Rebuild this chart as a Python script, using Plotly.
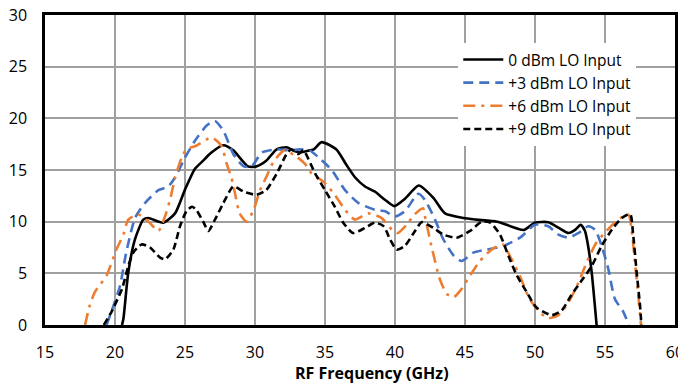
import plotly.graph_objects as go

# 0 dBm LO Input (solid black)
x0 = [20.5, 20.6, 20.95, 21.43, 22.02, 22.38, 23.45, 24.29, 25.0, 25.7, 26.3, 26.8, 27.74, 28.45,
      29.5, 30.1, 30.8, 31.55, 32.26, 32.7, 33.2, 33.9, 34.2, 34.76, 35.8, 36.55, 37.14, 37.86,
      38.57, 39.3, 39.95, 40.7, 41.7, 42.74, 43.57, 44.9, 45.8, 47.3, 49.2, 50.0, 50.95, 51.7,
      52.4, 52.86, 53.26, 53.57, 53.8, 54.05, 54.4]
y0 = [0.0, 0.6, 5.1, 8.3, 10.2, 10.35, 9.9, 10.8, 13.1, 15.1, 15.9, 16.6, 17.4, 16.9,
      15.35, 15.35, 15.9, 17.0, 17.2, 16.9, 16.7, 16.9, 17.0, 17.7, 17.0, 15.45, 14.3, 13.4,
      12.9, 12.1, 11.5, 12.2, 13.5, 12.3, 10.8, 10.35, 10.2, 10.0, 9.2, 9.9, 9.95, 9.4,
      8.9, 9.2, 9.7, 9.1, 7.6, 5.1, 0.0]

# +3 dBm LO Input (blue dashed)
x3 = [19.4, 19.9, 20.36, 20.8, 21.43, 22.14, 23.1, 23.8, 24.3, 25.0, 25.7, 26.55, 27.14, 27.74,
      28.45, 29.2, 29.76, 30.5, 31.55, 32.5, 33.2, 33.9, 34.64, 35.48, 36.43, 37.4, 38.57,
      39.3, 40.0, 40.7, 41.67, 42.14, 42.86, 43.45, 44.2, 44.76, 45.6, 46.55, 47.74, 48.93,
      50.0, 50.95, 51.67, 52.4, 53.1, 53.8, 54.3, 54.76, 55.24, 55.7, 56.3, 56.7]
y3 = [0.0, 1.9, 3.8, 7.0, 10.35, 11.8, 13.05, 13.4, 14.3, 16.2, 17.8, 19.3, 19.75, 18.8,
      16.55, 15.35, 15.35, 16.7, 17.0, 16.9, 17.0, 16.9, 16.1, 15.0, 13.05, 11.8, 11.15,
      11.0, 10.5, 11.0, 12.7, 12.1, 10.2, 8.3, 6.7, 6.2, 7.0, 7.3, 7.65, 8.45,
      9.7, 9.55, 8.75, 8.45, 8.9, 9.55, 9.2, 7.65, 5.4, 2.55, 1.3, 0.0]

# +6 dBm LO Input (orange dash-dot)
x6 = [17.86, 18.2, 18.57, 19.4, 20.1, 20.6, 20.95, 21.67, 22.4, 23.1, 23.57, 23.93, 24.3, 24.76,
      25.1, 25.8, 26.9, 27.6, 27.98, 28.33, 28.57, 28.9, 29.4, 29.9, 30.36, 30.8, 31.3, 32.1,
      33.0, 33.57, 34.05, 34.9, 35.7, 36.43, 37.14, 38.1, 39.05, 39.76, 40.2, 40.83, 41.4,
      42.0, 42.14, 42.6, 43.2, 43.7, 44.2, 44.76, 45.36, 46.07, 46.9, 47.7, 48.2, 48.9, 49.6,
      50.36, 50.95, 51.67, 52.4, 53.1, 53.8, 54.4, 55.1, 55.95, 56.67, 56.9, 57.14, 57.4, 57.57]
y6 = [0.0, 1.9, 3.2, 4.8, 7.3, 8.75, 10.2, 10.7, 10.0, 9.1, 10.5, 12.1, 14.3, 16.2,
      17.0, 17.35, 18.15, 17.35, 15.6, 14.2, 12.75, 10.8, 10.0, 11.15, 13.05, 14.3, 15.75, 16.9,
      16.25, 15.6, 14.65, 13.85, 12.6, 11.15, 10.2, 10.8, 10.35, 9.25, 8.9, 9.7, 10.7,
      11.3, 10.5, 7.65, 4.45, 3.0, 2.7, 3.5, 4.8, 6.2, 7.3, 7.8, 6.7, 4.8, 2.55,
      1.2, 0.65, 0.95, 2.2, 4.1, 6.4, 8.0, 9.1, 10.2, 10.7, 9.25, 6.05, 2.55, 0.0]

# +9 dBm LO Input (black short dashes)
x9 = [19.2, 19.76, 20.5, 20.95, 21.3, 21.9, 22.5, 23.2, 23.57, 24.17, 24.64, 25.1, 25.5, 25.8,
      26.3, 26.67, 27.14, 27.74, 28.45, 29.2, 30.1, 30.8, 31.55, 32.26, 32.6, 33.1, 33.45,
      34.3, 35.0, 35.7, 36.3, 37.0, 37.86, 38.57, 39.2, 39.64, 40.12, 40.7, 41.43, 41.9,
      42.74, 43.45, 44.4, 45.36, 46.2, 46.8, 47.5, 48.1, 48.7, 49.4, 50.1, 51.2, 51.9, 52.6,
      53.33, 54.05, 54.76, 55.5, 56.2, 56.8, 57.0, 57.26, 57.5, 57.6]
y9 = [0.0, 1.3, 3.5, 5.7, 7.0, 7.8, 7.5, 6.55, 6.35, 7.3, 9.55, 11.0, 11.45, 11.15,
      10.0, 9.1, 10.2, 11.8, 13.4, 12.9, 12.6, 13.05, 14.65, 16.55, 17.0, 16.55, 16.9,
      14.65, 13.05, 11.45, 9.9, 8.9, 9.4, 9.9, 9.55, 8.3, 7.3, 7.65, 9.1, 9.95,
      9.4, 8.75, 8.45, 9.1, 10.0, 9.9, 8.75, 6.7, 4.8, 3.2, 1.7, 0.95, 1.4, 2.9,
      4.3, 5.7, 7.65, 9.25, 10.35, 10.75, 8.9, 5.1, 1.9, 0.0]

x_ticks = [15, 20, 25, 30, 35, 40, 45, 50, 55, 60]
y_ticks = [0, 5, 10, 15, 20, 25, 30]
x_title = "RF Frequency (GHz)"

names = ["0 dBm LO Input", "+3 dBm LO Input", "+6 dBm LO Input", "+9 dBm LO Input"]
series = [(x0, y0), (x3, y3), (x6, y6), (x9, y9)]
styles = [
    dict(color="#000000", width=2.6, dash="solid"),
    dict(color="#4472C4", width=2.6, dash="10px,6px"),
    dict(color="#ED7D31", width=2.6, dash="12px,6px,3px,6px"),
    dict(color="#000000", width=2.6, dash="7px,4px"),
]

fig = go.Figure()
for name, (xs, ys), st in zip(names, series, styles):
    fig.add_trace(go.Scatter(x=xs, y=ys, mode="lines", name=name,
                             line=dict(shape="spline", smoothing=0.6, **st)))

# the page body has an 8px default margin, so the figure is sized to fit inside the window
fig.update_layout(
    width=678, height=375,
    margin=dict(l=37, r=11, t=7, b=58, autoexpand=False),
    paper_bgcolor="white", plot_bgcolor="white",
    font=dict(family="Open Sans", color="#000000", size=16),
    legend=dict(x=0.656, y=0.91, xanchor="left", yanchor="top",
                bgcolor="white", font=dict(size=15.5, family="Open Sans"),
                itemwidth=40, tracegroupgap=0),
    showlegend=True,
)
fig.add_annotation(text="<b>" + x_title + "</b>", xref="paper", yref="paper",
                   x=0.519, y=0, yanchor="middle", yshift=-48, showarrow=False,
                   font=dict(size=16, family="Open Sans"))
fig.update_xaxes(range=[15, 60], tickvals=x_ticks, ticktext=[str(v) for v in x_ticks],
                 showgrid=True, gridcolor="#A0A0A0", gridwidth=1.5,
                 showline=True, linecolor="#000000", linewidth=2.5, mirror=True,
                 zeroline=False, ticks="", ticklabelstandoff=11, automargin=False,
                 ticklabeloverflow="allow")
fig.update_yaxes(range=[0, 30], tickvals=y_ticks, ticktext=[str(v) for v in y_ticks],
                 showgrid=True, gridcolor="#A0A0A0", gridwidth=1.5,
                 showline=True, linecolor="#000000", linewidth=2.5, mirror=True,
                 zeroline=False, ticks="", ticklabelstandoff=12, automargin=False,
                 ticklabeloverflow="allow")

fig.write_html("out.html")
